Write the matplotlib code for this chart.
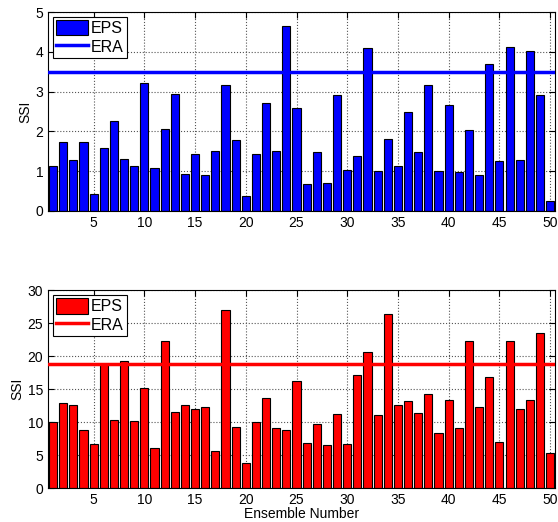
import matplotlib
matplotlib.use("Agg")
import matplotlib.pyplot as plt
import numpy as np

plt.rcParams['font.family'] = ['Liberation Sans', 'DejaVu Sans']
plt.rcParams['font.size'] = 10

members = np.arange(1, 51)

# storm severity index per ensemble member
ssi_top = [1.13, 1.73, 1.29, 1.72, 0.42, 1.57, 2.25, 1.30, 1.13, 3.22,
           1.09, 2.07, 2.94, 0.92, 1.42, 0.91, 1.51, 3.17, 1.78, 0.38,
           1.42, 2.72, 1.50, 4.65, 2.59, 0.68, 1.47, 0.69, 2.91, 1.03,
           1.38, 4.09, 1.01, 1.81, 1.12, 2.49, 1.47, 3.16, 1.01, 2.67,
           0.97, 2.03, 0.90, 3.69, 1.25, 4.13, 1.29, 4.02, 2.91, 0.26]
era_top = 3.50

ssi_bottom = [9.97, 12.86, 12.56, 8.76, 6.63, 18.78, 10.28, 19.24, 10.18, 15.19,
              6.08, 22.28, 11.49, 12.56, 11.95, 12.30, 5.62, 26.99, 9.27, 3.85,
              10.03, 13.62, 9.11, 8.76, 16.20, 6.89, 9.78, 6.49, 11.30, 6.74,
              17.08, 20.63, 11.15, 26.41, 12.67, 13.13, 11.45, 14.19, 8.36, 13.38,
              9.12, 22.25, 12.32, 16.83, 7.04, 22.25, 12.01, 13.28, 23.52, 5.37]
era_bottom = 18.85

fig = plt.figure(figsize=(5.58, 5.22), dpi=100)
ax1 = fig.add_axes([0.086, 0.596, 0.909, 0.381])
ax2 = fig.add_axes([0.086, 0.065, 0.909, 0.379])


def panel(ax, vals, era, color, ymax, ystep):
    bars = ax.bar(members, vals, width=0.8, color=color, edgecolor='black',
                  linewidth=0.8, zorder=2)
    line = ax.axhline(era, color=color, linewidth=2.5, zorder=3)
    ax.set_xlim(0.5, 50.5)
    ax.set_ylim(0, ymax)
    ax.set_xticks(np.arange(5, 51, 5))
    ax.set_yticks(np.arange(0, ymax + 1, ystep))
    ax.grid(True, linestyle=':', color='#555555', linewidth=0.8, zorder=0)
    ax.set_axisbelow(True)
    ax.tick_params(direction='in', top=True, right=True, length=4)
    ax.set_ylabel('SSI', labelpad=2)
    leg = ax.legend([bars, line], ['EPS', 'ERA'], loc='upper left',
                    fancybox=False, framealpha=1, edgecolor='black',
                    borderpad=0.2, handlelength=2.0, handleheight=1.1,
                    handletextpad=0.2, labelspacing=0.15, borderaxespad=0.3,
                    fontsize=11.5)
    leg.get_frame().set_linewidth(0.8)


panel(ax1, ssi_top, era_top, '#0000ff', 5, 1)
panel(ax2, ssi_bottom, era_bottom, '#ff0000', 30, 5)
ax2.set_xlabel('Ensemble Number', labelpad=0)

fig.savefig('out.png', dpi=100)
